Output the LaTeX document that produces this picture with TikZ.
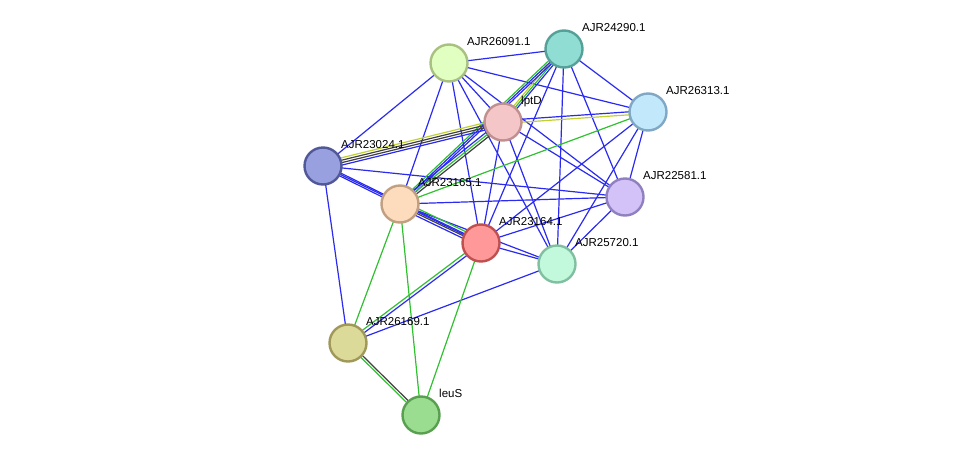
\documentclass[tikz,border=0pt]{standalone}
\usepackage{fontspec}
\setmainfont{Liberation Sans}
\usetikzlibrary{calc}
\definecolor{eblue}{HTML}{2A2AF0}
\definecolor{egreen}{HTML}{30C030}
\definecolor{eyellow}{HTML}{C0D030}
\definecolor{eblack}{HTML}{404040}
% offset edge: \offedge{color}{offset}{a}{b}
\newcommand\offedge[4]{\draw[edge,#1] ($(#3)!#2!90:(#4)$) -- ($(#4)!#2!-90:(#3)$);}
\begin{document}
\begin{tikzpicture}[
		x=1pt, y=-1pt,
		prot/.style={circle, line width=2.4pt, minimum size=37pt, inner sep=0pt},
		lbl/.style={anchor=base west, font=\fontsize{11.5}{13}\selectfont, inner sep=0pt},
		edge/.style={line width=1.2pt},
	]
	\useasboundingbox (0,0) rectangle (976,461);
	\coordinate (p26091) at (449,63);
	\coordinate (p24290) at (564,49);
	\coordinate (plptD) at (503,122);
	\coordinate (p26313) at (648,112);
	\coordinate (p23024) at (323,166);
	\coordinate (p23165) at (400,204);
	\coordinate (p22581) at (625,197);
	\coordinate (p23164) at (481,243);
	\coordinate (p25720) at (557,264);
	\coordinate (p26169) at (348,343);
	\coordinate (pleuS) at (421,415);
	
	% single blue edges
	\foreach \a/\b in {26091/24290, 26091/26313, 26091/lptD, 26091/22581, 26091/25720,
		26091/23164, 26091/23165, 26091/23024, 24290/23164, 24290/25720, 24290/22581,
		24290/26313, lptD/23164, lptD/25720, lptD/22581, 26313/23164, 26313/22581,
		26313/25720, 23024/23164, 23024/22581, 23024/26169, 23165/22581, 23165/25720,
		23164/22581, 23164/25720, 22581/25720, 25720/26169}
		\draw[edge, eblue] (p\a) -- (p\b);
	% single green edges
	\foreach \a/\b in {26313/23165, 23164/leuS, 23165/26169, 23165/leuS}
		\draw[edge, egreen] (p\a) -- (p\b);
	% multi edges
	\offedge{eyellow}{-2pt}{p24290}{plptD}
	\offedge{egreen}{0pt}{p24290}{plptD}
	\offedge{eblue}{2pt}{p24290}{plptD}
	\offedge{egreen}{-2pt}{p24290}{p23165}
	\offedge{eblue}{0pt}{p24290}{p23165}
	\offedge{eblue}{2pt}{p24290}{p23165}
	\offedge{eyellow}{-1.5pt}{plptD}{p26313}
	\offedge{eblue}{1.5pt}{plptD}{p26313}
	\offedge{eblue}{-3.6pt}{p23024}{plptD}
	\offedge{eblack}{-1.2pt}{p23024}{plptD}
	\offedge{eblack}{1.2pt}{p23024}{plptD}
	\offedge{eyellow}{3.6pt}{p23024}{plptD}
	\offedge{eblue}{-2.4pt}{plptD}{p23165}
	\offedge{egreen}{0pt}{plptD}{p23165}
	\offedge{eblack}{2.4pt}{plptD}{p23165}
	\offedge{eblue}{-1.5pt}{p23024}{p23165}
	\offedge{eblue}{1.5pt}{p23024}{p23165}
	\offedge{eblue}{-3.6pt}{p23165}{p23164}
	\offedge{eblack}{-1.2pt}{p23165}{p23164}
	\offedge{eblue}{1.2pt}{p23165}{p23164}
	\offedge{egreen}{3.6pt}{p23165}{p23164}
	\offedge{egreen}{-1.5pt}{p23164}{p26169}
	\offedge{eblue}{1.5pt}{p23164}{p26169}
	\offedge{egreen}{-1.2pt}{p26169}{pleuS}
	\offedge{eblack}{1.2pt}{p26169}{pleuS}
	
	% proteins
	\foreach \p/\f/\d/\t in {
		26091/E0FFC0/A8C080/AJR26091.1, 24290/90DDD3/55A098/AJR24290.1,
		lptD/F5C6C8/C09090/lptD, 26313/C2E8FC/80A8C4/AJR26313.1,
		23024/98A0E0/505898/AJR23024.1, 23165/FDDCBE/C0A080/AJR23165.1,
		22581/D2C2F8/9080C0/AJR22581.1, 23164/FF9898/C05050/AJR23164.1,
		25720/C2F8DC/80C0A0/AJR25720.1, 26169/DCDA98/A09858/AJR26169.1,
		leuS/9ADC90/58A050/leuS}{
		\definecolor{fc}{HTML}{\f}
		\definecolor{dc}{HTML}{\d}
		\node (n\p) [prot, fill=fc, draw=dc] at (p\p) {};
		\node (t\p) [lbl] at ($(p\p)+(18,-18)$) {\t};
	}
\end{tikzpicture}
\end{document}
